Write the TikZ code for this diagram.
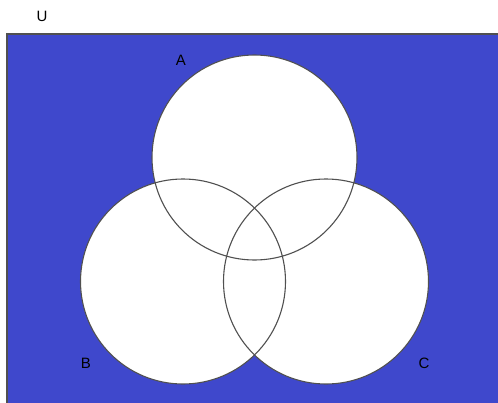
\documentclass[tikz,border=0pt]{standalone}
\usepackage{fontspec}
\setmainfont{Liberation Sans}
\definecolor{ubg}{RGB}{63,72,204}
\definecolor{edge}{RGB}{80,80,80}
\begin{document}
\begin{tikzpicture}[x=1pt,y=-1pt,
  setcircle/.style={draw=edge,line width=1.1pt},
  lbl/.style={font=\fontsize{15}{17}\selectfont,inner sep=0pt}]
\useasboundingbox (0,0) rectangle (498,402);
\clip (0,0) rectangle (498,402);
\draw[fill=ubg,draw=edge,line width=1.5pt] (7,34) rectangle (510,420);
\fill[white] (254.5,157.5) circle (102.5);
\fill[white] (183,281.5) circle (102.5);
\fill[white] (326,281.5) circle (102.5);
\draw[setcircle] (254.5,157.5) circle (102.5);
\draw[setcircle] (183,281.5) circle (102.5);
\draw[setcircle] (326,281.5) circle (102.5);
\node[lbl] (u) at (42,16) {U};
\node[lbl] (a) at (181,60) {A};
\node[lbl] (b) at (86,363) {B};
\node[lbl] (c) at (424,363) {C};
\end{tikzpicture}
\end{document}
